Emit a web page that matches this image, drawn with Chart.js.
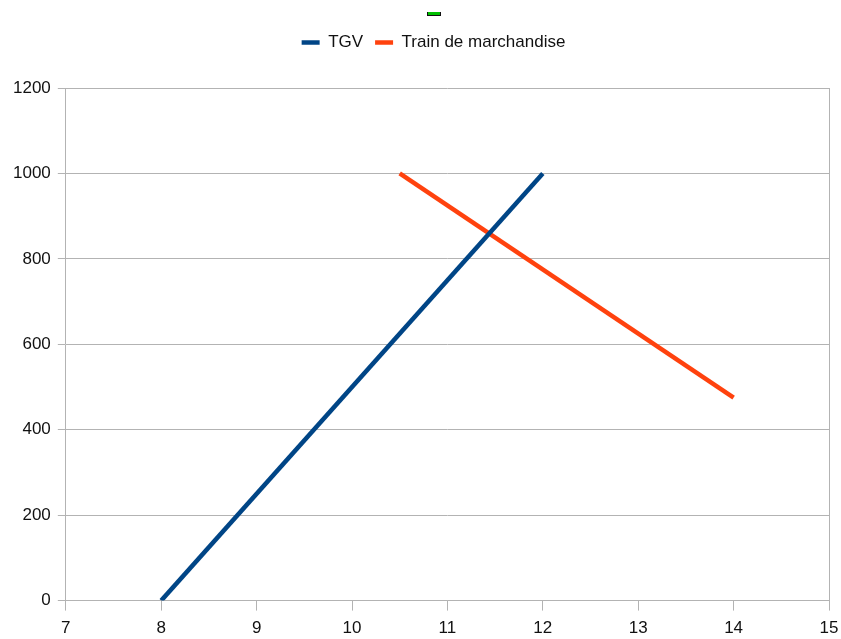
<!DOCTYPE html>
<html>
<head>
<meta charset="utf-8">
<script src="https://cdn.jsdelivr.net/npm/chart.js@4/dist/chart.umd.min.js"></script>
<style>
  html, body { margin: 0; padding: 0; background: #fff; }
  #wrap { width: 841px; height: 639px; }
</style>
</head>
<body>
<div id="wrap"><canvas id="c" width="841" height="639"></canvas></div>
<script>
// Series: distance (y) against hour (x)
const tgvX = [8, 12];
const tgvY = [0, 1000];
const freightX = [10.5, 14];
const freightY = [1000, 475];
const seriesNames = ['TGV', 'Train de marchandise'];
const xTicks = [7, 8, 9, 10, 11, 12, 13, 14, 15];
const yTicks = [0, 200, 400, 600, 800, 1000, 1200];

const toPoints = (xs, ys) => xs.map((x, i) => ({ x: x, y: ys[i] }));

const GRID = '#b3b3b3';
const FONT = { family: "'Liberation Sans', Arial, sans-serif", size: 17 };

// Extra room under the legend and a small shift of the legend to the right
const legendSpacing = {
  id: 'legendSpacing',
  beforeInit(chart) {
    const fit = chart.legend.fit;
    chart.legend.fit = function () {
      fit.call(this);
      this.height += 27;
    };
  },
  afterLayout(chart) {
    chart.legend.left += 12;
    chart.legend.right += 12;
  }
};

// Small green marker above the legend
const topMark = {
  id: 'topMark',
  afterDraw(chart) {
    const ctx = chart.ctx;
    const cx = Math.round(chart.legend.left + chart.legend.width / 2);
    ctx.save();
    ctx.fillStyle = '#00c000';
    ctx.fillRect(cx - 6, 12, 12, 3);
    ctx.strokeStyle = '#111';
    ctx.lineWidth = 1;
    ctx.beginPath();
    ctx.moveTo(cx - 6, 15.5);
    ctx.lineTo(cx + 6, 15.5);
    ctx.moveTo(cx - 6.5, 12);
    ctx.lineTo(cx - 6.5, 16);
    ctx.moveTo(cx + 6.5, 12);
    ctx.lineTo(cx + 6.5, 16);
    ctx.stroke();
    ctx.restore();
  }
};

new Chart(document.getElementById('c'), {
  type: 'line',
  data: {
    datasets: [
      {
        label: seriesNames[0],
        data: toPoints(tgvX, tgvY),
        borderColor: '#004586',
        backgroundColor: '#004586',
        borderWidth: 4.5,
        pointRadius: 0,
        fill: false,
        tension: 0
      },
      {
        label: seriesNames[1],
        data: toPoints(freightX, freightY),
        borderColor: '#ff420e',
        backgroundColor: '#ff420e',
        borderWidth: 4.5,
        pointRadius: 0,
        fill: false,
        tension: 0
      }
    ]
  },
  plugins: [legendSpacing, topMark],
  options: {
    responsive: false,
    animation: false,
    devicePixelRatio: 1,
    layout: { padding: { top: 22, left: 6, right: 4, bottom: 0 } },
    plugins: {
      tooltip: { enabled: false },
      legend: {
        position: 'top',
        labels: {
          usePointStyle: true,
          pointStyle: 'line',
          pointStyleWidth: 18,
          boxHeight: 8,
          color: '#111',
          font: FONT,
          padding: 12
        }
      }
    },
    scales: {
      x: {
        type: 'linear',
        min: xTicks[0],
        max: xTicks[xTicks.length - 1],
        afterBuildTicks(axis) { axis.ticks = xTicks.map(v => ({ value: v })); },
        afterFit(axis) {
          axis.height -= 8;
          axis.paddingRight = 12;
        },
        border: { display: true, color: GRID, width: 1 },
        grid: {
          color: ctx => (ctx.index === xTicks.length - 1 ? GRID : 'rgba(0,0,0,0)'),
          tickColor: GRID,
          tickLength: 10,
          drawTicks: true
        },
        ticks: {
          color: '#111', font: FONT, padding: 8, maxRotation: 0,
          callback: v => String(v)
        }
      },
      y: {
        type: 'linear',
        min: yTicks[0],
        max: yTicks[yTicks.length - 1],
        afterBuildTicks(axis) { axis.ticks = yTicks.map(v => ({ value: v })); },
        border: { display: true, color: GRID, width: 1 },
        grid: { color: GRID, tickColor: GRID, tickLength: 8 },
        ticks: {
          color: '#111', font: FONT, padding: 7,
          callback: v => String(v)
        }
      }
    }
  }
});
</script>
</body>
</html>
